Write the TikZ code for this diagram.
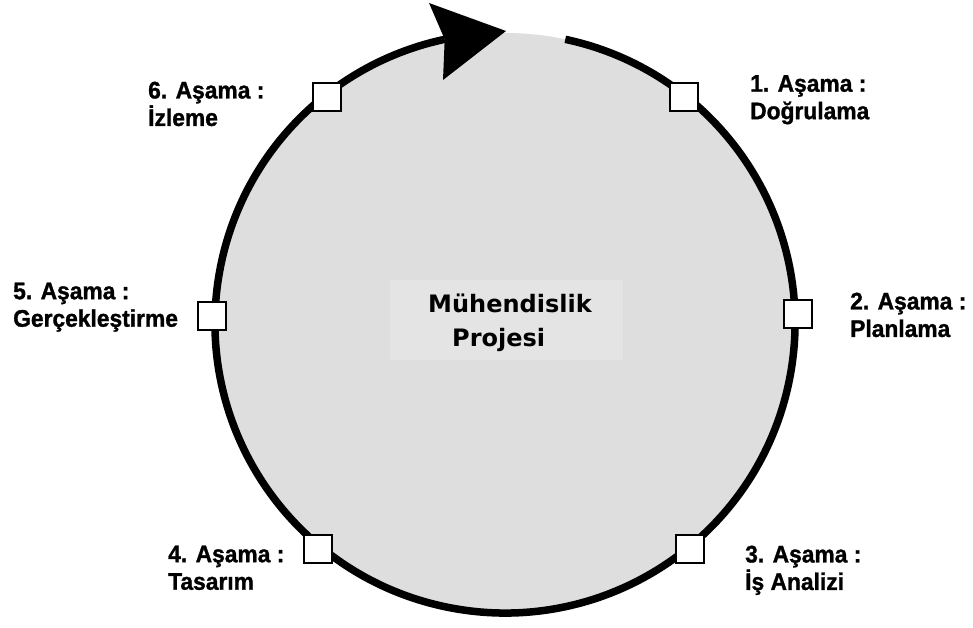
\documentclass[tikz,border=0pt]{standalone}
\usepackage{fontspec}
\usetikzlibrary{calc}
\setmainfont{Liberation Sans}
\newfontfamily\phasefont{Liberation Sans Bold}[FakeStretch=0.95, FakeBold=1.2]
\newfontfamily\titlefont{DejaVu Sans Bold}
\definecolor{diskgray}{HTML}{DEDEDE}
\definecolor{boxgray}{HTML}{E4E4E4}
\begin{document}
\begin{tikzpicture}[x=1pt,y=1pt,
  stage/.style={draw=black, line width=2pt, fill=white, minimum size=28pt, inner sep=0pt},
  phase/.style={anchor=north west, align=left, inner sep=0pt,
    font=\fontsize{24}{27.5}\selectfont\phasefont},
  title/.style={anchor=base west, inner sep=0pt,
    font=\fontsize{24}{28}\selectfont\titlefont},
  cycle/.style={line width=7.5pt, black},
]
\useasboundingbox (0,0) rectangle (973,627);
\fill[white] (0,0) rectangle (973,627);

% project disk and the lighter panel behind the title
\coordinate (c) at (505,304);
\fill[diskgray] (c) circle[radius=290];
\fill[boxgray] (390,267) rectangle (623,347);

% cycle ring, open at the top, ending in a large arrowhead
\coordinate (arcstart) at ($(c)+(78:290)$);
\coordinate (arcend) at ($(c)+(102:290)$);
\draw[cycle] (arcstart) arc[start angle=78, end angle=-258, radius=290];
\coordinate (tip) at (506,596);
\fill[black] (tip) -- (429,624) -- (arcend) -- (443,547) -- cycle;

% stage markers on the ring
\node[stage] (s1) at (684,530) {};
\node[stage] (s2) at (798,313) {};
\node[stage] (s3) at (690,78) {};
\node[stage] (s4) at (318,78) {};
\node[stage] (s5) at (212,311) {};
\node[stage] (s6) at (327,530) {};

% stage labels
\node[phase] (l1) at (750,552) {1. Aşama :\\Doğrulama};
\node[phase] (l2) at (850,334.5) {2. Aşama :\\Planlama};
\node[phase] (l3) at (745,81.5) {3. Aşama :\\İş Analizi};
\node[phase] (l4) at (168,81.5) {4. Aşama :\\Tasarım};
\node[phase] (l5) at (13,344.5) {5. Aşama :\\Gerçekleştirme};
\node[phase] (l6) at (148,545.5) {6. Aşama :\\İzleme};

% title
\node[title] (t1) at (428,315) {Mühendislik};
\node[title] (t2) at (452,281) {Projesi};
\end{tikzpicture}
\end{document}
